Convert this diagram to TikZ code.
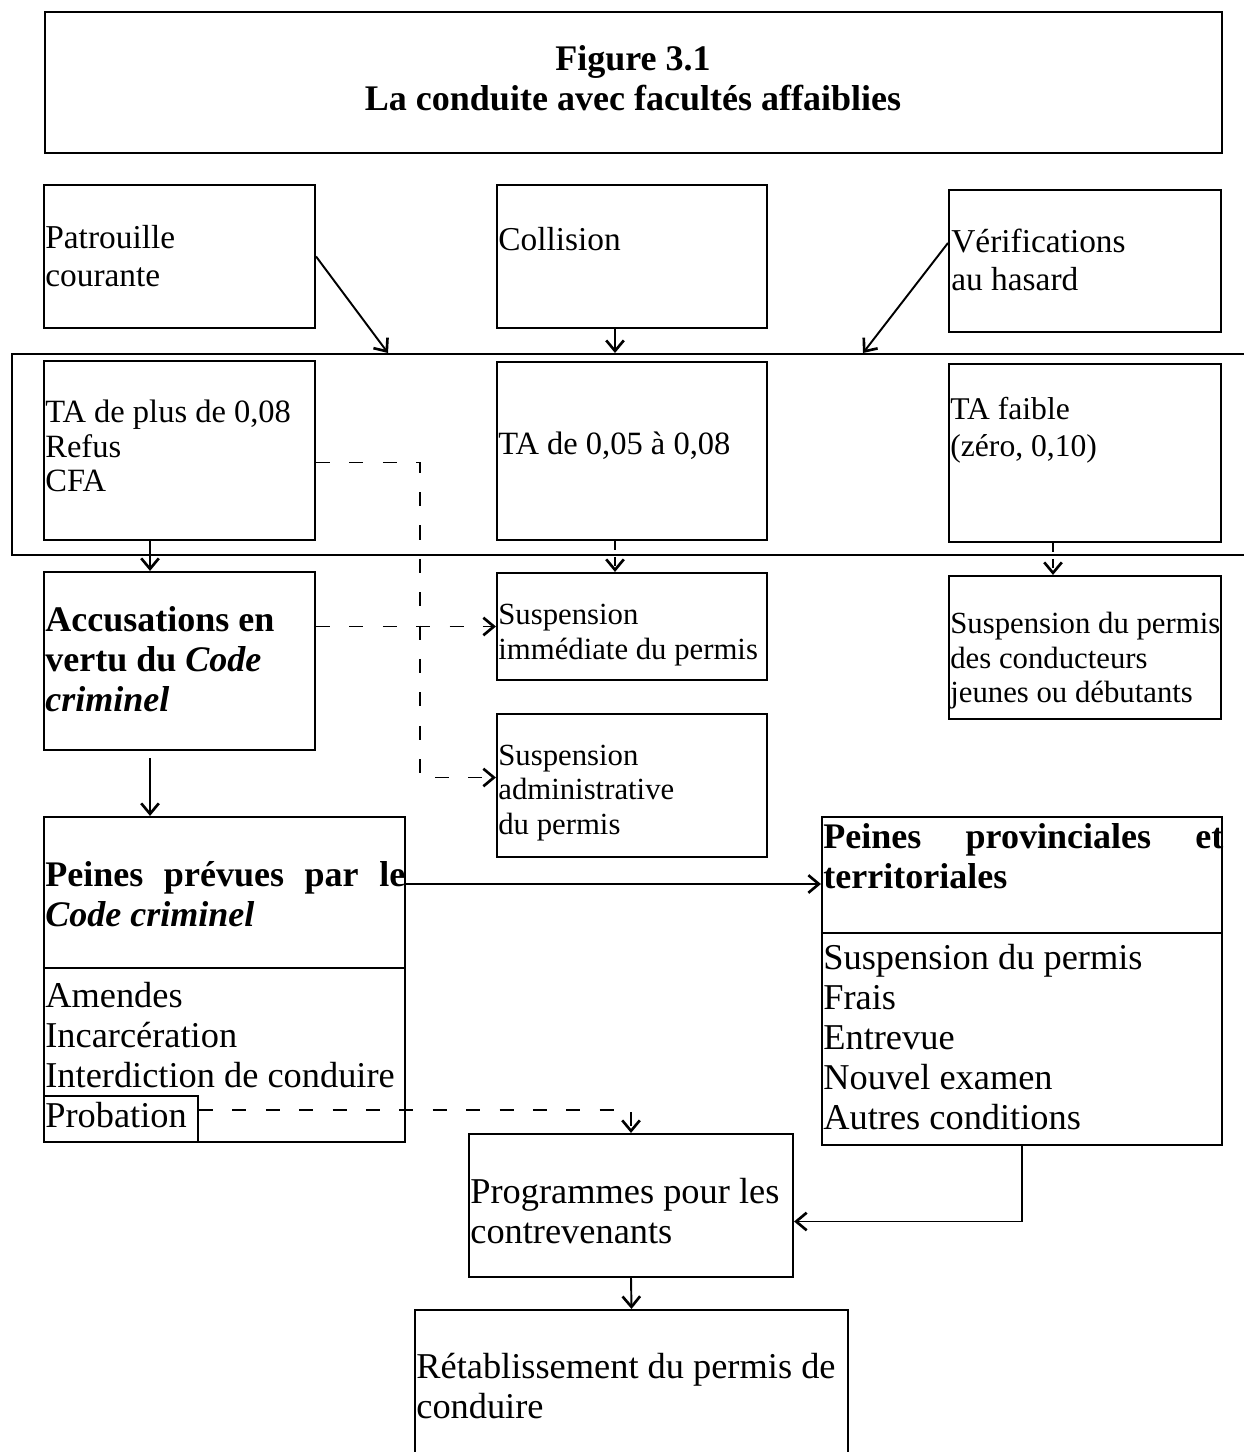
\documentclass[tikz,border=0pt]{standalone}
\usepackage{fontspec}
\setmainfont{Liberation Serif}
\usetikzlibrary{arrows.meta,calc,fit}
\newcommand\fsT{\fontsize{20.5}{22.8}\selectfont\bfseries}
\newcommand\fsS{\fontsize{19}{21.2}\selectfont}
\newcommand\fsM{\fontsize{18.5}{19.8}\selectfont}
\newcommand\fsN{\fontsize{17.5}{19.6}\selectfont}
\newcommand\fsL{\fontsize{20.7}{22.8}\selectfont}
\begin{document}
\begin{tikzpicture}[x=0.02cm,y=-0.02cm,
  box/.style={draw, line width=1.2pt, inner sep=0pt, rectangle},
  txt/.style={inner sep=0pt, anchor=west, align=left},
  arr/.style={line width=1.1pt, -{Straight Barb[length=6pt,width=10pt,line width=1.5pt]}},
  dsh/.style={arr, dash pattern=on 8pt off 11pt},
  dshs/.style={arr, dash pattern=on 5pt off 4pt},
  band/.style={line width=1.4pt}
]
\useasboundingbox (0,0) rectangle (1243,1452);

% title
\node[box, fit={(45,12)(1222,153)}] (title) {};
\node[font=\fsT, align=center, inner sep=0pt] (titleT) at (633,78) {Figure 3.1\\La conduite avec facultés affaiblies};

% top row
\node[box, fit={(44,185)(315,328)}] (pat) {};
\node[txt, font=\fsS] (patT) at (45,256) {Patrouille\\courante};
\node[box, fit={(497,185)(767,328)}] (col) {};
\node[txt, font=\fsS] (colT) at (498,239) {Collision};
\node[box, fit={(949,190)(1221,332)}] (ver) {};
\node[txt, font=\fsS] (verT) at (951,260) {Vérifications\\au hasard};

% band
\coordinate (bandTR) at (1250,354);
\coordinate (bandTL) at (12,354);
\coordinate (bandBL) at (12,555);
\coordinate (bandBR) at (1250,555);
\draw[band] (bandTR) -- (bandTL) -- (bandBL) -- (bandBR);

% second row
\node[box, fit={(44,361)(315,540)}] (tap) {};
\node[txt, font=\fsM] (tapT) at (45,446) {TA de plus de 0,08\\Refus\\CFA};
\node[box, fit={(497,362)(767,540)}] (ta2) {};
\node[txt, font=\fsM] (ta2T) at (498,446) {TA de 0,05 à 0,08};
\node[box, fit={(949,364)(1221,542)}] (taf) {};
\node[txt, font=\fontsize{18}{21}\selectfont] (tafT) at (950,430) {TA faible\\(zéro, 0,10)};

% third row
\node[box, fit={(44,572)(315,750)}] (acc) {};
\node[txt, font=\fsT] (accT) at (45,659) {Accusations en\\vertu du \textit{Code}\\\textit{criminel}};
\node[box, fit={(497,573)(767,680)}] (susimm) {};
\node[txt, font=\fsN] (susimmT) at (498,635) {Suspension\\immédiate du permis};
\node[box, fit={(949,576)(1221,719)}] (susj) {};
\node[txt, font=\fsN] (susjT) at (950,661) {Suspension du permis\\des conducteurs\\jeunes ou débutants};
\node[box, fit={(497,714)(767,857)}] (susadm) {};
\node[txt, font=\fsN] (susadmT) at (498,793) {Suspension\\administrative\\du permis};

% penalties
\node[box, fit={(44,817)(405,1142)}] (pcc) {};
\draw[line width=1.2pt] (pcc.west |- 0,968) -- (pcc.east |- 0,968);
\node[txt, font=\fsT] (pccT) at (45,894) {\makebox[7.2cm][s]{Peines prévues par le}\\\textit{Code criminel}};
\node[txt, font=\fsL] (pccL) at (45,1055) {Amendes\\Incarcération\\Interdiction de conduire\\Probation};
\node[box, fit={(44,1096)(198,1142)}] (prob) {};

\node[box, fit={(822,817)(1222,1145)}] (ppt) {};
\draw[line width=1.2pt] (ppt.west |- 0,933) -- (ppt.east |- 0,933);
\node[txt, font=\fsT] (pptT) at (823,856) {\makebox[8cm][s]{Peines provinciales et}\\territoriales};
\node[txt, font=\fsL] (pptL) at (823,1037) {Suspension du permis\\Frais\\Entrevue\\Nouvel examen\\Autres conditions};

\node[box, fit={(469,1134)(793,1277)}] (prog) {};
\node[txt, font=\fsL] (progT) at (470,1211) {Programmes pour les\\contrevenants};

\node[box, fit={(415,1310)(848,1480)}] (ret) {};
\node[txt, font=\fsL] (retT) at (416,1386) {Rétablissement du permis de\\conduire};

% helper coordinates
\coordinate (c1) at (150,0);
\coordinate (c2) at (615,0);
\coordinate (c3) at (1053,0);
\coordinate (dj) at (420,0);
\coordinate (t1) at (388,353);
\coordinate (t3) at (863,353);
\coordinate (r1) at (0,884);
\coordinate (r2) at (0,1110);

% connectors
\draw[arr] (pat.east) -- (t1);
\draw[arr] (col.south -| c2) -- (c2 |- t1);
\draw[arr] ($(ver.west)+(0,-18)$) -- (t3);

\draw[arr] (tap.south -| c1) -- (acc.north -| c1);
\draw[dshs] (ta2.south -| c2) -- (susimm.north -| c2);
\draw[dshs] (taf.south -| c3) -- (susj.north -| c3);

\coordinate (dA) at ($(tap.east)+(0,12)$);
\coordinate (dB) at ($(susadm.west)+(0,-8)$);
\draw[dsh] (dA) -- (dA -| dj) -- (dB -| dj) -- (dB);
\draw[dsh] (acc.east |- susimm.west) -- (susimm.west);

\draw[arr] ($(acc.south -| c1)+(0,7)$) -- (pcc.north -| c1);
\draw[arr] (pcc.east |- r1) -- (ppt.west |- r1);
\draw[dsh] (prob.east |- r2) -| (prog.north);
\draw[arr] (ppt.south) |- ($(prog.east)+(0,16)$);
\draw[arr] (prog.south) -- (ret.north);
\end{tikzpicture}
\end{document}
